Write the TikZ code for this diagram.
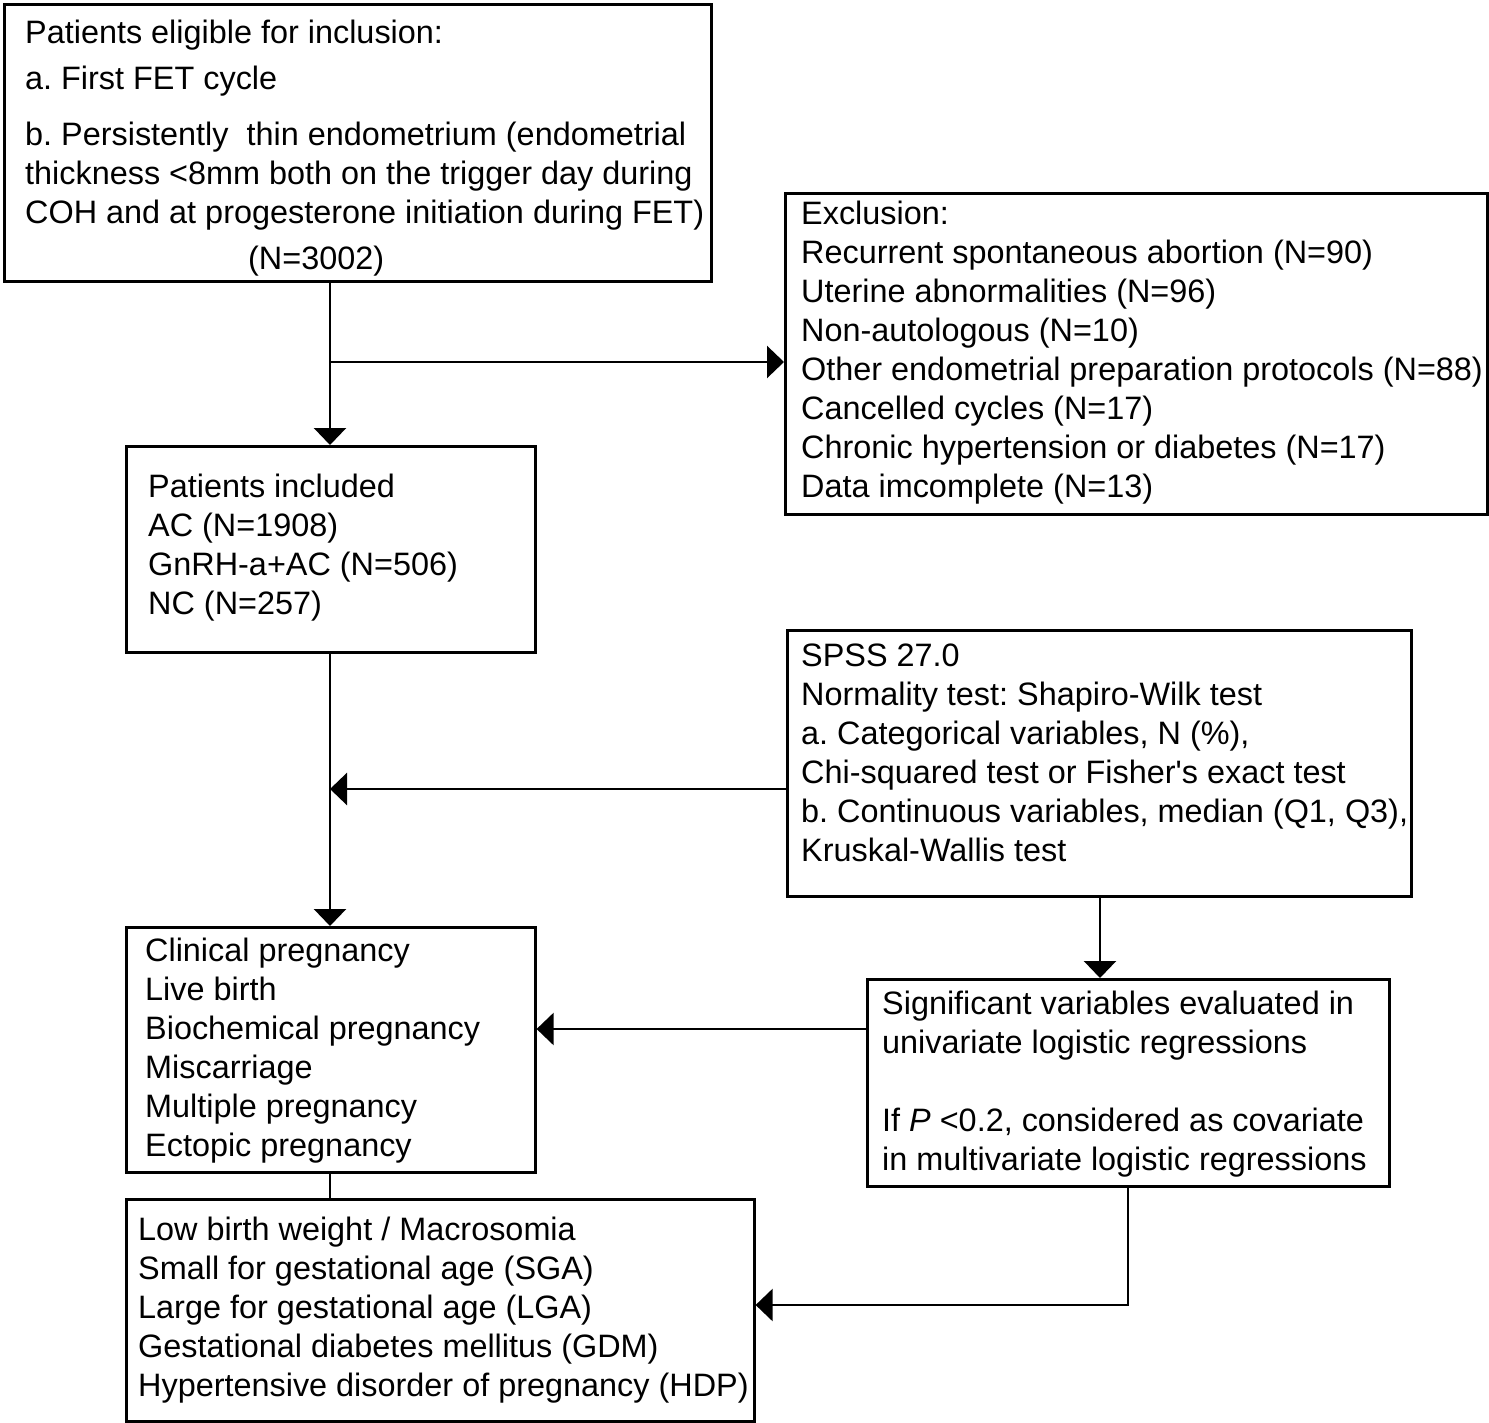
\documentclass[tikz,border=0pt]{standalone}
\usepackage{fontspec}
\setmainfont{Liberation Sans}[Ligatures=TeXOff]
\usetikzlibrary{arrows.meta}
\begin{document}
\frenchspacing
\begin{tikzpicture}[x=1pt,y=-1pt,
  box/.style={draw,line width=2.6pt,inner sep=0pt},
  txt/.style={anchor=base west,inner sep=0pt,font=\fontsize{32.4}{39}\selectfont},
  blk/.style={anchor=north west,inner sep=0pt,align=left,font=\fontsize{32.4}{39}\selectfont},
  conn/.style={line width=2.6pt},
  arr/.style={line width=2.6pt,-{Triangle[length=17pt,width=32pt]}}]
\newcommand{\fl}{\rule{0pt}{24pt}}
\useasboundingbox (0,0) rectangle (1489,1423);
% boxes
\node[box,minimum width=707pt,minimum height=277pt,anchor=north west] (elig) at (3,3) {};
\node[box,minimum width=702pt,minimum height=321pt,anchor=north west] (excl) at (784,192) {};
\node[box,minimum width=409pt,minimum height=206pt,anchor=north west] (incl) at (125,445) {};
\node[box,minimum width=624pt,minimum height=266pt,anchor=north west] (spss) at (786,629) {};
\node[box,minimum width=409pt,minimum height=245pt,anchor=north west] (outc) at (125,926) {};
\node[box,minimum width=522pt,minimum height=207pt,anchor=north west] (sig) at (866,978) {};
\node[box,minimum width=628pt,minimum height=222pt,anchor=north west] (obst) at (125,1198) {};
% texts
\node[txt] (t1) at (25,43.5) {Patients eligible for inclusion:};
\node[txt] (t2) at (25,89.5) {a. First FET cycle};
\node[blk] (t3) at (25,121.5) {\fl b. Persistently\ \ thin endometrium (endometrial\\thickness <8mm both on the trigger day during\\COH and at progesterone initiation during FET)};
\node[txt] (t4) at (248,269.5) {(N=3002)};
\node[blk] (t5) at (801,200.5) {\fl Exclusion:\\Recurrent spontaneous abortion (N=90)\\Uterine abnormalities (N=96)\\Non-autologous (N=10)\\Other endometrial preparation protocols (N=88)\\Cancelled cycles (N=17)\\Chronic hypertension or diabetes (N=17)\\Data imcomplete (N=13)};
\node[blk] (t6) at (148,473.5) {\fl Patients included\\AC (N=1908)\\GnRH-a+AC (N=506)\\NC (N=257)};
\node[blk] (t7) at (801,642.5) {\fl SPSS 27.0\\Normality test: Shapiro-Wilk test\\a. Categorical variables, N (\%),\\Chi-squared test or Fisher's exact test\\b. Continuous variables, median (Q1, Q3),\\Kruskal-Wallis test};
\node[blk] (t8) at (145,937.5) {\fl Clinical pregnancy\\Live birth\\Biochemical pregnancy\\Miscarriage\\Multiple pregnancy\\Ectopic pregnancy};
\node[blk] (t9) at (882,990.5) {\fl Significant variables evaluated in\\univariate logistic regressions\\[39pt]If \textit{P} <0.2, considered as covariate\\in multivariate logistic regressions};
\node[blk] (t10) at (138,1216.5) {\fl Low birth weight / Macrosomia\\Small for gestational age (SGA)\\Large for gestational age (LGA)\\Gestational diabetes mellitus (GDM)\\Hypertensive disorder of pregnancy (HDP)};
% connectors
\coordinate (j1) at (330,362);
\coordinate (j2) at (330,789);
\coordinate (j3) at (1128,1305);
\draw[arr] (elig.south -| j1) -- (incl.north -| j1);
\draw[arr] (j1) -- (j1 -| excl.west);
\draw[arr] (incl.south -| j1) -- (outc.north -| j1);
\draw[arr] (j2 -| spss.west) -- (j2);
\draw[arr] (spss.south -| 1100,0) -- (sig.north -| 1100,0);
\draw[arr] (sig.west |- 0,1029) -- (outc.east |- 0,1029);
\draw[conn] (outc.south -| j1) -- (obst.north -| j1);
\draw[arr] (sig.south -| j3) -- (j3) -- (j3 -| obst.east);
\end{tikzpicture}
\end{document}
